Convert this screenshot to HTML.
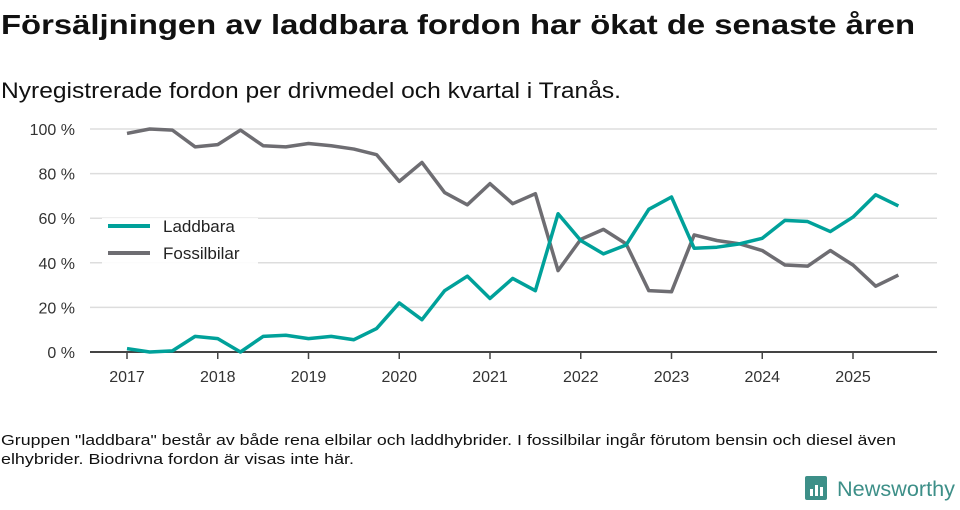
<!DOCTYPE html>
<html><head><meta charset="utf-8"><style>
body{margin:0;background:#fff;width:960px;height:505px;overflow:hidden;font-family:"Liberation Sans","DejaVu Sans",sans-serif}
</style></head><body>
<svg width="960" height="505" viewBox="0 0 960 505" xmlns="http://www.w3.org/2000/svg">
<text x="1" y="34" font-size="28" font-weight="bold" fill="#111" textLength="914" lengthAdjust="spacingAndGlyphs">Försäljningen av laddbara fordon har ökat de senaste åren</text>
<text x="1" y="98" font-size="22" fill="#111" textLength="620" lengthAdjust="spacingAndGlyphs">Nyregistrerade fordon per drivmedel och kvartal i Tranås.</text>
<g id="grid"></g><g id="lines"></g>
<g>
<rect x="102" y="218" width="156" height="50" fill="#fff" opacity="0.9"/>
<line x1="108" y1="226" x2="150" y2="226" stroke="#00a19a" stroke-width="4"/>
<text x="163" y="232" font-size="17" fill="#222">Laddbara</text>
<line x1="108" y1="253" x2="150" y2="253" stroke="#6e6d72" stroke-width="4"/>
<text x="163" y="259" font-size="17" fill="#222">Fossilbilar</text>
</g>
<text x="1" y="445" font-size="14.5" fill="#111" textLength="895" lengthAdjust="spacingAndGlyphs">Gruppen "laddbara" består av både rena elbilar och laddhybrider. I fossilbilar ingår förutom bensin och diesel även</text>
<text x="1" y="464" font-size="14.5" fill="#111" textLength="353" lengthAdjust="spacingAndGlyphs">elhybrider. Biodrivna fordon är visas inte här.</text>
<g>
<rect x="805" y="476" width="22" height="24" rx="2" fill="#3d8f88"/>
<rect x="810" y="489" width="3" height="7" fill="#fff"/><rect x="815" y="485" width="3" height="11" fill="#fff"/><rect x="820" y="487" width="3" height="9" fill="#fff"/>
<text x="837" y="496" font-size="21" fill="#3d8f88" textLength="118" lengthAdjust="spacingAndGlyphs">Newsworthy</text>
</g>
</svg>
<script>
const years=[2017,2018,2019,2020,2021,2022,2023,2024,2025];
const yTicks=[0,20,40,60,80,100];
const laddbara=[1.5,0,0.5,7,6,0,7,7.5,6,7,5.5,10.5,22,14.5,27.5,34,24,33,27.5,62,50,44,48,64,69.5,46.5,47,48.5,51,59,58.5,54,60.5,70.5,65.5];
const fossil=[98,100,99.5,92,93,99.5,92.5,92,93.5,92.5,91,88.5,76.5,85,71.5,66,75.5,66.5,71,36.5,50.5,55,48.5,27.5,27,52.5,50,48.5,45.5,39,38.5,45.5,39,29.5,34.5];
const NS="http://www.w3.org/2000/svg";
function xs(t){return 127+(t-2017)*90.75;}
function ys(v){return 352-v*2.23;}
const grid=document.getElementById('grid');
yTicks.forEach(v=>{
 const l=document.createElementNS(NS,'line');
 
 
 l.setAttribute('x1',90);l.setAttribute('x2',937);l.setAttribute('y1',ys(v));l.setAttribute('y2',ys(v));
 l.setAttribute('stroke',v===0?'#444':'#ddd');l.setAttribute('stroke-width',v===0?2:1.5);
 grid.appendChild(l);
 const t=document.createElementNS(NS,'text');
 
 
 t.setAttribute('x',75);t.setAttribute('y',ys(v)+6);t.setAttribute('text-anchor','end');t.setAttribute('font-size','16');t.setAttribute('fill','#333');
 t.textContent=v+' %';grid.appendChild(t);
});
years.forEach(y=>{
 const l=document.createElementNS(NS,'line');
 
 
 l.setAttribute('x1',xs(y));l.setAttribute('x2',xs(y));l.setAttribute('y1',352);l.setAttribute('y2',359);
 l.setAttribute('stroke','#444');l.setAttribute('stroke-width',1.5);grid.appendChild(l);
 const t=document.createElementNS(NS,'text');
 
 
 t.setAttribute('x',xs(y));t.setAttribute('y',382);t.setAttribute('text-anchor','middle');t.setAttribute('font-size','16');t.setAttribute('fill','#333');
 t.textContent=y;grid.appendChild(t);
});
const lines=document.getElementById('lines');
[[fossil,'#6e6d72','fossilbilar-line'],[laddbara,'#00a19a','laddbara-line']].forEach(([d,c,n])=>{
 const p=document.createElementNS(NS,'polyline');
 
 
 p.setAttribute('points',d.map((v,i)=>xs(2017+i/4)+','+ys(v)).join(' '));
 p.setAttribute('fill','none');p.setAttribute('stroke',c);p.setAttribute('stroke-width',3.5);p.setAttribute('stroke-linejoin','round');
 lines.appendChild(p);
});
</script>
</body></html>
